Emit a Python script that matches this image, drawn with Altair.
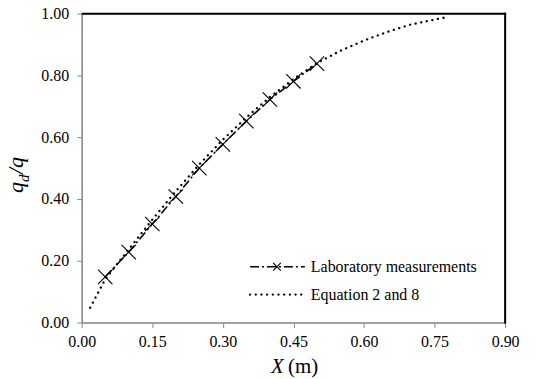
import altair as alt
import pandas as pd

# Laboratory measurements
lab_x = [0.05, 0.10, 0.15, 0.20, 0.25, 0.30, 0.35, 0.40, 0.45, 0.50]
lab_y = [0.148, 0.228, 0.319, 0.408, 0.500, 0.577, 0.652, 0.722, 0.781, 0.838]

# Equation 2 and 8
eq_x = [0.018, 0.05, 0.10, 0.15, 0.20, 0.25, 0.30, 0.35, 0.40, 0.45, 0.50,
        0.55, 0.60, 0.65, 0.70, 0.77]
eq_y = [0.048, 0.140, 0.237, 0.333, 0.425, 0.512, 0.592, 0.664, 0.730, 0.788, 0.840,
        0.880, 0.913, 0.941, 0.965, 0.987]

x_ticks = [0.00, 0.15, 0.30, 0.45, 0.60, 0.75, 0.90]
y_ticks = [0.0, 0.1, 0.2, 0.3, 0.4, 0.5, 0.6, 0.7, 0.8, 0.9, 1.0]

legend_labels = ["Laboratory measurements", "Equation 2 and 8"]

FONT = "Liberation Serif"
AXIS_GRAY = "#878787"
XPATH = "M-1,-1L1,1M-1,1L1,-1"

lab = pd.DataFrame({"x": lab_x, "y": lab_y})
eq = pd.DataFrame({"x": eq_x, "y": eq_y})
one = pd.DataFrame({"a": [0]})

xs = alt.Scale(domain=[0, 0.9], nice=False, zero=False)
ys = alt.Scale(domain=[0, 1], nice=False, zero=False)

xaxis = alt.Axis(values=x_ticks, format=".2f", title=None, grid=False,
                 tickSize=5, labelPadding=6, labelFontSize=16, labelFont=FONT,
                 domainColor=AXIS_GRAY, tickColor=AXIS_GRAY,
                 domainWidth=1.5, tickWidth=1, labelFlush=False)
yaxis = alt.Axis(values=y_ticks, format=".2f", title=None, grid=False,
                 tickSize=5, labelPadding=8, labelFontSize=16, labelFont=FONT,
                 domainColor=AXIS_GRAY, tickColor=AXIS_GRAY,
                 domainWidth=1.5, tickWidth=1, labelFlush=False)

# top and right border of the plot frame
top_border = alt.Chart(one).mark_rule(color="black", strokeWidth=2).encode(
    x=alt.value(0), x2=alt.value(426), y=alt.value(0))
right_border = alt.Chart(one).mark_rule(color="black", strokeWidth=2).encode(
    x=alt.value(425), y=alt.value(-1), y2=alt.value(311))

eq_line = alt.Chart(eq).mark_line(
    color="black", strokeWidth=2.3, strokeDash=[0.1, 5.6], strokeCap="round"
).encode(
    x=alt.X("x:Q", scale=xs, axis=xaxis),
    y=alt.Y("y:Q", scale=ys, axis=yaxis),
)

lab_line = alt.Chart(lab).mark_line(
    color="black", strokeWidth=1.6, strokeDash=[9, 3, 2, 3]
).encode(x=alt.X("x:Q", scale=xs), y=alt.Y("y:Q", scale=ys))

lab_pts = alt.Chart(lab).mark_point(
    shape=XPATH, size=210, filled=False, color="black", strokeWidth=1.1, opacity=1
).encode(x=alt.X("x:Q", scale=xs), y=alt.Y("y:Q", scale=ys))

# custom legend
leg1_line = alt.Chart(one).mark_rule(
    color="black", strokeWidth=1.6, strokeDash=[9, 3, 2, 3]
).encode(x=alt.value(169), x2=alt.value(224), y=alt.value(254))
leg1_pt = alt.Chart(one).mark_point(
    shape=XPATH, size=60, filled=False, color="black", strokeWidth=1.1, opacity=1
).encode(x=alt.value(196), y=alt.value(254))
leg1_txt = alt.Chart(one).mark_text(
    text=legend_labels[0], font=FONT, fontSize=16, align="left", baseline="middle"
).encode(x=alt.value(230), y=alt.value(254))
leg2_line = alt.Chart(one).mark_rule(
    color="black", strokeWidth=2.3, strokeDash=[0.1, 5.6], strokeCap="round"
).encode(x=alt.value(169), x2=alt.value(222), y=alt.value(282))
leg2_txt = alt.Chart(one).mark_text(
    text=legend_labels[1], font=FONT, fontSize=16, align="left", baseline="middle"
).encode(x=alt.value(230), y=alt.value(282))

# axis titles
xt1 = alt.Chart(one).mark_text(
    text="X", font=FONT, fontSize=21, fontStyle="italic", align="left",
    baseline="alphabetic"
).encode(x=alt.value(190), y=alt.value(361))
xt2 = alt.Chart(one).mark_text(
    text="(m)", font=FONT, fontSize=21, align="left", baseline="alphabetic"
).encode(x=alt.value(207), y=alt.value(361))

yt1 = alt.Chart(one).mark_text(
    text="q", font=FONT, fontSize=22, fontStyle="italic", align="left",
    baseline="alphabetic", angle=270
).encode(x=alt.value(-59), y=alt.value(180))
yt2 = alt.Chart(one).mark_text(
    text="d", font=FONT, fontSize=15, fontStyle="italic", align="left",
    baseline="alphabetic", angle=270
).encode(x=alt.value(-53), y=alt.value(169))
yt3 = alt.Chart(one).mark_text(
    text="/q", font=FONT, fontSize=22, fontStyle="italic", align="left",
    baseline="alphabetic", angle=270
).encode(x=alt.value(-59), y=alt.value(161))

chart = alt.layer(
    eq_line, lab_line, lab_pts, top_border, right_border,
    leg1_line, leg1_pt, leg1_txt, leg2_line, leg2_txt,
    xt1, xt2, yt1, yt2, yt3,
).properties(
    width=425, height=310,
    padding={"left": 5, "top": 5, "right": 20, "bottom": 1},
)

chart.save("out.html", embed_options={"renderer": "svg", "actions": False})
